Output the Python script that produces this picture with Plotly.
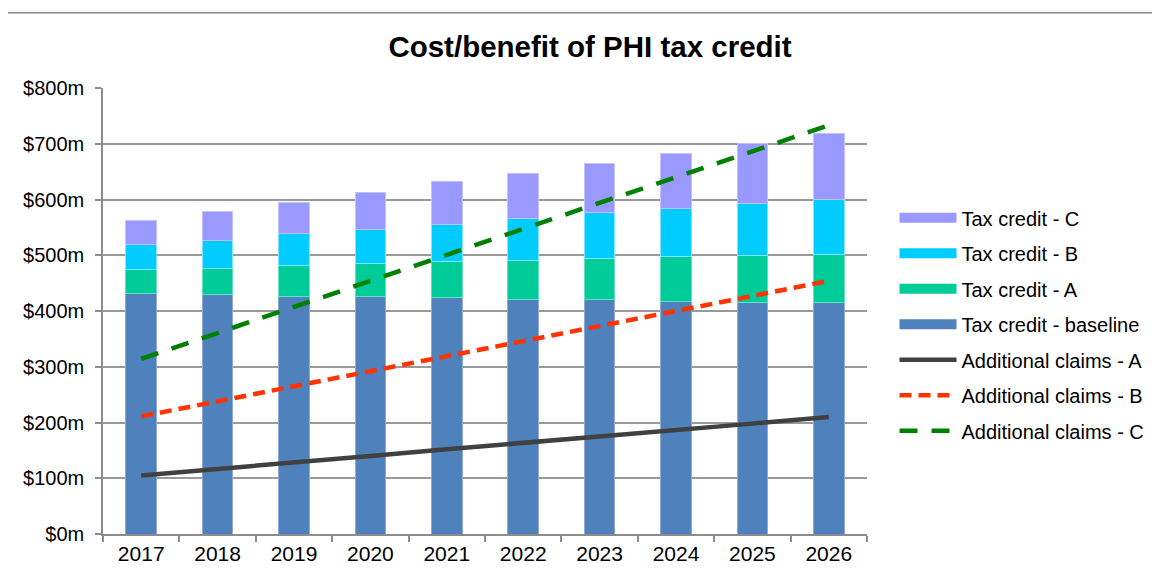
import plotly.graph_objects as go

years = ["2017", "2018", "2019", "2020", "2021", "2022", "2023", "2024", "2025", "2026"]
tc_baseline = [431, 430, 426, 426, 424, 421, 421, 417, 415, 415]
tc_a = [44, 47, 56, 60, 64, 70, 73, 80, 85, 87]
tc_b = [44, 50, 57, 61, 68, 75, 82, 87, 92, 98]
tc_c = [43, 51, 56, 65, 76, 81, 89, 98, 109, 118]
claims_a = [105, 116, 128, 140, 152, 163, 175, 187, 198, 210]
claims_b = [211, 238, 265, 292, 319, 346, 373, 400, 427, 454]
claims_c = [314, 361, 407, 454, 500, 547, 594, 640, 687, 733]
y_ticks = [0, 100, 200, 300, 400, 500, 600, 700, 800]
y_tick_labels = ["$%dm" % v for v in y_ticks]

FONT = "Liberation Sans, Arial, sans-serif"
col_base, col_a, col_b, col_c = "#4F81BD", "#00CC99", "#00CCFF", "#9999FF"

# page has an 8px body margin; work in figure coordinates (page - 8)
OFF = 8
FW, FH = 1160 - OFF, 575 - OFF

fig = go.Figure()
bars = [("Tax credit - baseline", tc_baseline, col_base, "#8EAADB", 4),
        ("Tax credit - A", tc_a, col_a, "#66E0C2", 3),
        ("Tax credit - B", tc_b, col_b, "#80E6FF", 2),
        ("Tax credit - C", tc_c, col_c, "#C2C2FF", 1)]
for name, vals, col, edge, rank in bars:
    fig.add_trace(go.Bar(x=years, y=vals, name=name, marker=dict(color=col, line=dict(color=edge, width=1)),
                         showlegend=False))
    fig.add_trace(go.Scatter(x=[None], y=[None], mode="lines", name=name,
                             line=dict(color=col, width=10), legendrank=rank, legendgroup=name))

lines = [("Additional claims - A", claims_a, "#404040", "solid", 5),
         ("Additional claims - B", claims_b, "#FF3300", "12px,7px", 6),
         ("Additional claims - C", claims_c, "#008000", "18px,14px", 7)]
for name, vals, col, dash, rank in lines:
    fig.add_trace(go.Scatter(x=years, y=vals, name=name, mode="lines",
                             line=dict(color=col, width=4.5, dash=dash), legendrank=rank, legendgroup=name))

px0, px1, py0, py1 = 103 - OFF, 867 - OFF, 534.3 - OFF, 88.3 - OFF
W, H = px1 - px0, py0 - py1
def xp(px): return (px - OFF - px0) / W
def yp(py): return (py0 - (py - OFF)) / H

fig.update_layout(
    width=FW, height=FH,
    margin=dict(l=px0, r=FW - px1, t=py1, b=FH - py0, autoexpand=False),
    barmode="stack", bargap=0.6,
    paper_bgcolor="white", plot_bgcolor="white",
    font=dict(family=FONT, size=20, color="black"),
    title=dict(text="<b>Cost/benefit of PHI tax credit</b>", x=((388 + 792) / 2 - OFF) / FW, xanchor="center",
               y=1 - (47 - OFF) / FH, yanchor="middle", font=dict(family=FONT, size=29.5, color="black")),
    xaxis=dict(type="category", showgrid=False, showline=True, linecolor="#8c8c8c", linewidth=1.5,
               ticks="outside", tickson="boundaries", ticklen=6, tickcolor="#8c8c8c", tickwidth=1.5,
               tickfont=dict(size=21), ticklabelstandoff=0, automargin=False),
    yaxis=dict(range=[0, 800], tickvals=y_ticks, ticktext=y_tick_labels, showgrid=True,
               gridcolor="#999999", gridwidth=1.5, showline=True, linecolor="#8c8c8c", linewidth=1.5,
               ticks="outside", ticklen=6, tickcolor="#8c8c8c", tickwidth=1.5, zeroline=False,
               tickfont=dict(size=20), ticklabelstandoff=7, automargin=False),
    legend=dict(x=xp(894.5), xanchor="left", y=yp(198.5), yanchor="top", itemwidth=57,
                tracegroupgap=6.5, font=dict(size=20), bgcolor="rgba(0,0,0,0)"),
    showlegend=True,
    shapes=[
        dict(type="line", xref="paper", yref="paper", x0=xp(5), x1=xp(1170), y0=yp(13), y1=yp(13),
             line=dict(color="#888888", width=1.5)),
        dict(type="line", xref="paper", yref="paper", x0=xp(5), x1=xp(5), y0=yp(13), y1=yp(590),
             line=dict(color="#d0d0d0", width=1.5)),
    ],
)

fig.write_html("out.html")
